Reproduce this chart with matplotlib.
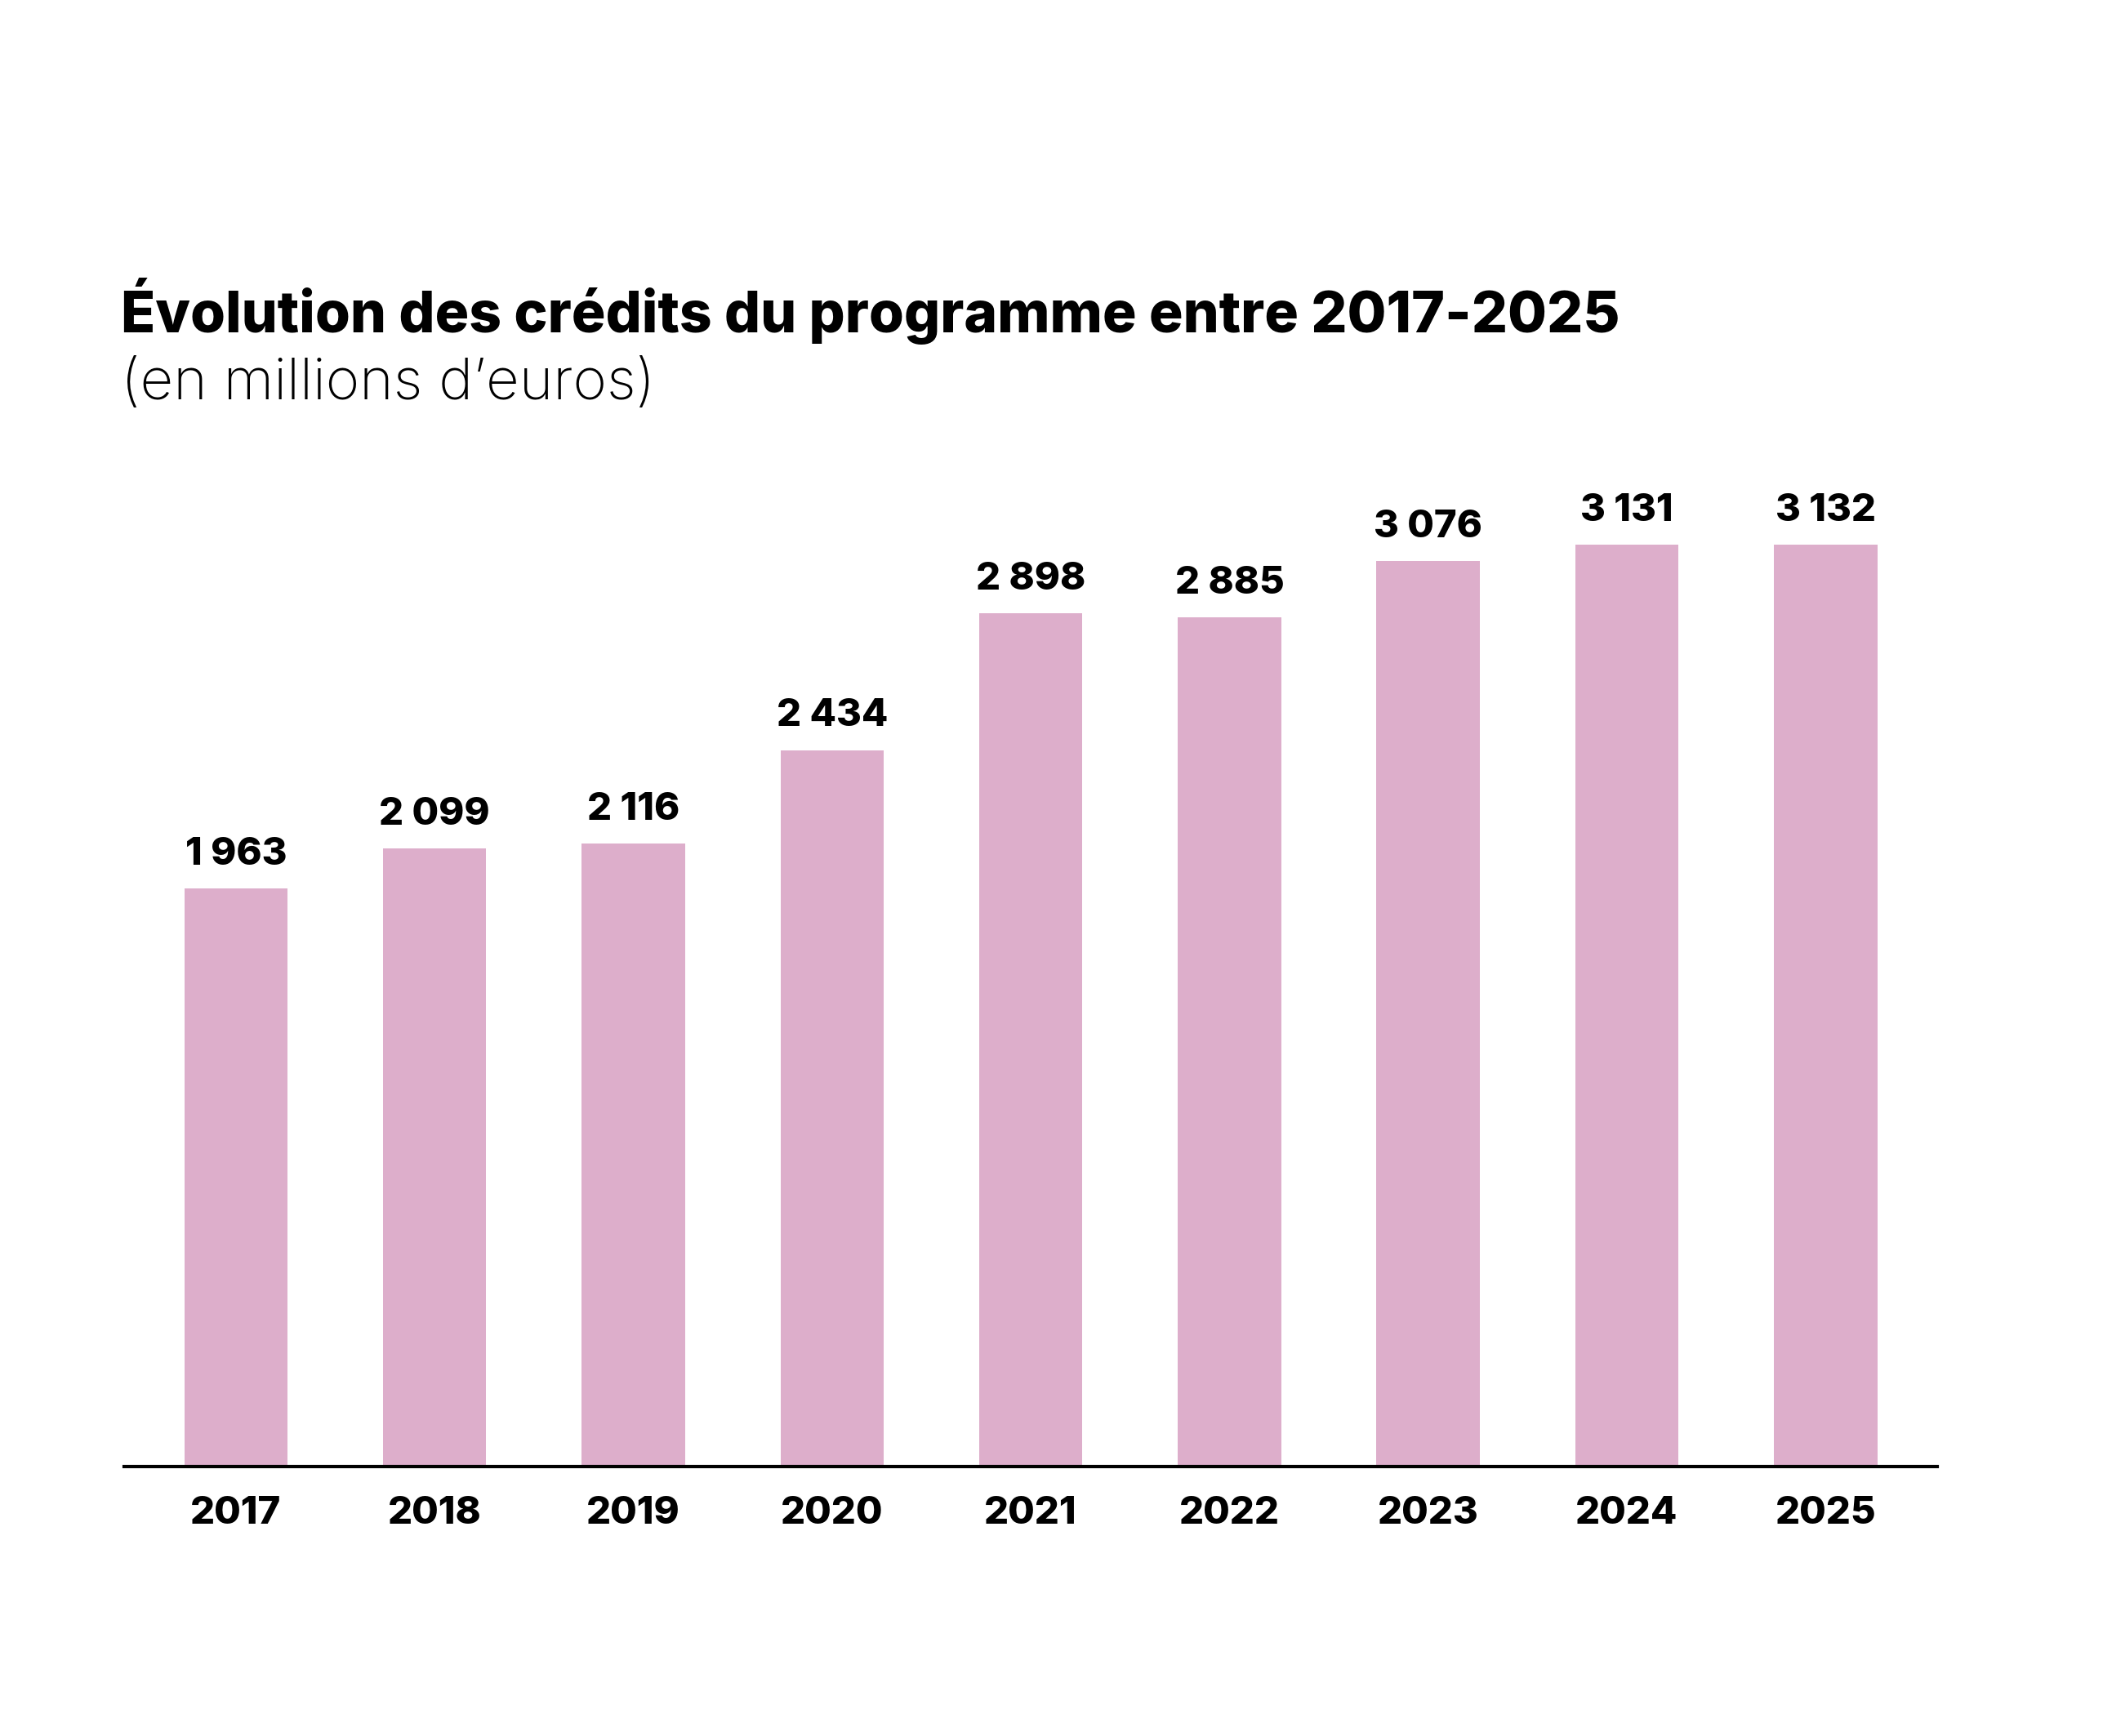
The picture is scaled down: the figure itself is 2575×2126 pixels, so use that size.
import numpy as np
import matplotlib.pyplot as plt

years = ['2017', '2018', '2019', '2020', '2021', '2022', '2023', '2024', '2025']
credits = [1963, 2099, 2116, 2434, 2898, 2885, 3076, 3131, 3132]
labels = ['1 963', '2 099', '2 116', '2 434', '2 898', '2 885', '3 076', '3 131', '3 132']

plt.rcParams['font.family'] = ['Inter', 'DejaVu Sans']

fig = plt.figure(figsize=(25.75, 21.26), dpi=100)
ax = fig.add_axes([0.059, 0.1552, 0.8620, 0.5626])

x = np.arange(len(years))
ax.bar(x, credits, width=0.52, color='#ddaecb')

for xi, v, lab in zip(x, credits, labels):
    ax.annotate(lab, (xi, v), xytext=(0, 14), textcoords='offset points',
                ha='center', va='bottom', fontsize=34, fontweight='heavy')

ax.set_xlim(-0.563, 8.56)
ax.set_ylim(0, 3318)
ax.set_xticks(x)
ax.set_xticklabels(years, fontsize=34, fontweight='heavy')
ax.tick_params(axis='x', length=0, pad=26)
ax.set_yticks([])
for s in ['left', 'right', 'top']:
    ax.spines[s].set_visible(False)
ax.spines['bottom'].set_linewidth(3)

# title block, pixel coordinates
fig.text(148, 2126 - 407, 'Évolution des crédits du programme entre 2017-2025',
         transform=None, fontsize=50, fontweight='heavy', va='baseline')
fig.text(148, 2126 - 489, '(en millions d\u2019euros)', transform=None,
         fontsize=51, fontweight='light', va='baseline')

fig.savefig('out.png', dpi=100, facecolor='white')
